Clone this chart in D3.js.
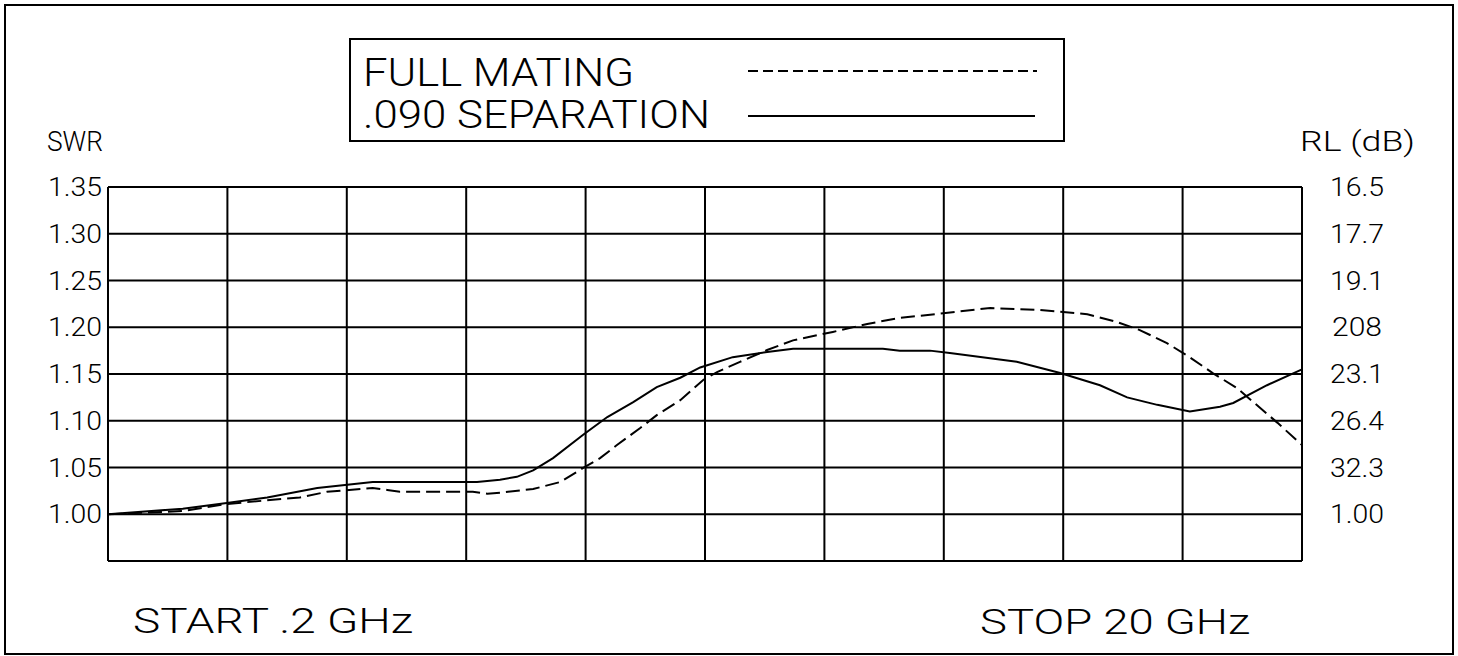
<!DOCTYPE html>
<html><head><meta charset="utf-8">
<script src="https://cdn.jsdelivr.net/npm/d3@7"></script>
<style>
html,body{margin:0;padding:0;background:#fff;}
svg text{font-family:'Roboto','Liberation Sans',sans-serif;font-weight:300;fill:#000;}
</style></head><body>
<svg id="c" width="1458" height="656"></svg>
<script>
// ---- data ----
const swrTicks = [1.00, 1.05, 1.10, 1.15, 1.20, 1.25, 1.30, 1.35];
const swrLabels = ["1.00", "1.05", "1.10", "1.15", "1.20", "1.25", "1.30", "1.35"];
const rlLabels = ["1.00", "32.3", "26.4", "23.1", "208", "19.1", "17.7", "16.5"];
const freqGridTicks = [0.2, 2.18, 4.16, 6.14, 8.12, 10.1, 12.08, 14.06, 16.04, 18.02, 20];
const seriesNames = ["FULL MATING", ".090 SEPARATION"];

const sepFreq = [0.2, 1.44, 2.17, 2.84, 3.67, 4.59, 6.32, 6.70, 6.98, 7.25, 7.58, 8.08, 8.48, 8.91, 9.30, 9.69, 10.02, 10.56, 11.13, 11.56, 13.05, 13.33, 13.83, 14.16, 15.27, 15.99, 16.65, 17.10, 17.60, 18.14, 18.64, 18.86, 19.42, 20.0];
const sepSwr  = [1.000, 1.006, 1.012, 1.018, 1.028, 1.0345, 1.0345, 1.037, 1.040, 1.047, 1.060, 1.085, 1.104, 1.120, 1.136, 1.146, 1.157, 1.168, 1.1735, 1.177, 1.177, 1.175, 1.175, 1.1725, 1.163, 1.151, 1.138, 1.125, 1.117, 1.110, 1.115, 1.119, 1.138, 1.155];

const fullFreq = [0.2, 1.44, 2.17, 3.38, 3.83, 4.59, 4.83, 5.04, 6.25, 6.49, 6.70, 7.25, 7.70, 8.08, 8.36, 8.64, 9.02, 9.30, 9.69, 10.07, 10.30, 10.68, 11.13, 11.56, 12.22, 12.79, 13.33, 14.05, 14.83, 15.66, 16.44, 16.93, 17.31, 17.76, 18.09, 18.52, 18.92, 19.59, 20.0];
const fullSwr  = [1.000, 1.0035, 1.011, 1.018, 1.024, 1.028, 1.026, 1.024, 1.024, 1.022, 1.023, 1.027, 1.0345, 1.0495, 1.060, 1.074, 1.092, 1.106, 1.122, 1.1436, 1.152, 1.163, 1.1757, 1.186, 1.195, 1.2035, 1.210, 1.215, 1.2206, 1.2185, 1.214, 1.2056, 1.197, 1.183, 1.170, 1.151, 1.135, 1.098, 1.074];

// ---- drawing ----
const svg = d3.select("#c");
const x = d3.scaleLinear().domain([0.2, 20]).range([108, 1302]);
const y = d3.scaleLinear().domain([0.95, 1.35]).range([561, 187]);

// outer border
svg.append("rect").attr("x", 5).attr("y", 5).attr("width", 1448).attr("height", 649)
  .attr("fill", "none").attr("stroke", "#000").attr("stroke-width", 2);

// grid
const g = svg.append("g").attr("stroke", "#000").attr("stroke-width", 2).attr("fill", "none");
g.selectAll("line.h").data(swrTicks.concat([0.95])).enter().append("line")
  .attr("x1", x(0.2)).attr("x2", x(20)).attr("y1", d => y(d)).attr("y2", d => y(d));
g.selectAll("line.v").data(freqGridTicks).enter().append("line")
  .attr("x1", d => x(d)).attr("x2", d => x(d)).attr("y1", y(1.35)).attr("y2", y(0.95));

// left labels
svg.append("g").selectAll("text").data(swrTicks).enter().append("text")
  .attr("x", 102).attr("y", d => y(d)).attr("dy", "0.36em").attr("text-anchor", "end")
  .attr("font-size", 25).attr("textLength", 54).attr("lengthAdjust", "spacingAndGlyphs")
  .text((d, i) => swrLabels[i]);
// right labels
svg.append("g").selectAll("text").data(swrTicks).enter().append("text")
  .attr("x", 1357).attr("y", d => y(d)).attr("dy", "0.36em").attr("text-anchor", "middle")
  .attr("font-size", 25).attr("textLength", (d, i) => rlLabels[i].length === 3 ? 50 : 54)
  .attr("lengthAdjust", "spacingAndGlyphs")
  .text((d, i) => rlLabels[i]);

svg.append("text").attr("x", 47).attr("y", 151).attr("font-size", 27)
  .attr("textLength", 56).attr("lengthAdjust", "spacingAndGlyphs").text("SWR");
svg.append("text").attr("x", 1300).attr("y", 151).attr("font-size", 27)
  .attr("textLength", 115).attr("lengthAdjust", "spacingAndGlyphs").text("RL (dB)");

svg.append("text").attr("x", 133).attr("y", 633).attr("font-size", 35)
  .attr("textLength", 280).attr("lengthAdjust", "spacingAndGlyphs").text("START .2 GHz");
svg.append("text").attr("x", 980).attr("y", 634).attr("font-size", 35)
  .attr("textLength", 270).attr("lengthAdjust", "spacingAndGlyphs").text("STOP 20 GHz");

// legend
svg.append("rect").attr("x", 350).attr("y", 39).attr("width", 714).attr("height", 102)
  .attr("fill", "none").attr("stroke", "#000").attr("stroke-width", 2);
svg.append("text").attr("x", 363).attr("y", 86).attr("font-size", 39)
  .attr("textLength", 271).attr("lengthAdjust", "spacingAndGlyphs").text(seriesNames[0]);
svg.append("text").attr("x", 363).attr("y", 128).attr("font-size", 39)
  .attr("textLength", 347).attr("lengthAdjust", "spacingAndGlyphs").text(seriesNames[1]);
svg.append("line").attr("x1", 748).attr("x2", 1037).attr("y1", 71).attr("y2", 71)
  .attr("stroke", "#000").attr("stroke-width", 2).attr("stroke-dasharray", "10,5");
svg.append("line").attr("x1", 748).attr("x2", 1035).attr("y1", 116).attr("y2", 116)
  .attr("stroke", "#000").attr("stroke-width", 2);

// curves
const line = d3.line().x(d => x(d[0])).y(d => y(d[1]));
svg.append("path").datum(d3.zip(fullFreq, fullSwr)).attr("d", line)
  .attr("fill", "none").attr("stroke", "#000").attr("stroke-width", 2).attr("stroke-dasharray", "14,6");
svg.append("path").datum(d3.zip(sepFreq, sepSwr)).attr("d", line)
  .attr("fill", "none").attr("stroke", "#000").attr("stroke-width", 2);
</script>
</body></html>
